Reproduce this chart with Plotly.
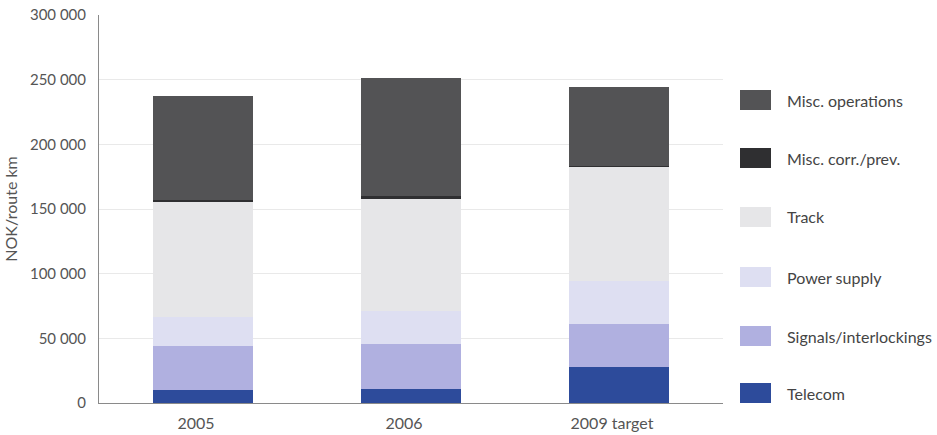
import plotly.graph_objects as go

# Maintenance cost per route km, by year and component
years = ["2005", "2006", "2009 target"]
telecom = [10000, 10500, 28000]
signals = [34000, 35000, 33000]
power_supply = [22500, 25500, 33000]
track = [89000, 86500, 88500]
misc_corr_prev = [1500, 2500, 500]
misc_operations = [80000, 91000, 61500]

y_ticks = [0, 50000, 100000, 150000, 200000, 250000, 300000]

# bottom-to-top stacking order
series = [
    ("Telecom", telecom, "#2d4b9b"),
    ("Signals/interlockings", signals, "#b0b0e0"),
    ("Power supply", power_supply, "#dedff2"),
    ("Track", track, "#e6e6e8"),
    ("Misc. corr./prev.", misc_corr_prev, "#2f2f31"),
    ("Misc. operations", misc_operations, "#535355"),
]

FONT = "Lato"
TEXT = "#555555"

fig = go.Figure()
for name, vals, col in series:
    fig.add_trace(go.Bar(
        x=years, y=vals, name=name,
        marker=dict(color=col, line=dict(width=0)),
        showlegend=False,
    ))

W, H = 937, 435
L, R, T, B = 99, 214, 15, 32
PW, PH = W - L - R, H - T - B


def px_x(px):
    return (px - L) / PW


def px_y(py):
    return (H - B - py) / PH


# legend drawn as swatch + label rows, top row = top of stack
legend_rows = list(reversed(series))
row_y = [100, 158, 217, 277, 336, 393]  # pixel centres
shapes = []
annotations = []
for (name, _, col), py in zip(legend_rows, row_y):
    shapes.append(dict(type="rect", xref="paper", yref="paper",
                       x0=px_x(740), x1=px_x(771),
                       y0=px_y(py + 10), y1=px_y(py - 10),
                       fillcolor=col, line=dict(width=0)))
    annotations.append(dict(xref="paper", yref="paper",
                            x=px_x(785), y=px_y(py),
                            text=name, showarrow=False, xanchor="left", yanchor="middle",
                            font=dict(family=FONT, size=16, color="#444444")))

fig.update_layout(
    width=W, height=H,
    margin=dict(l=L, r=R, t=T, b=B, pad=0),
    barmode="stack",
    bargap=0.52,
    plot_bgcolor="white",
    paper_bgcolor="white",
    separators=". ",
    font=dict(family=FONT, size=15, color=TEXT),
    shapes=shapes,
    annotations=annotations,
)
fig.update_xaxes(
    automargin=False,
    showline=True, linecolor="#8a8a8a", linewidth=1,
    showgrid=False, ticks="", ticklabelstandoff=6, ticklabelshift=-7,
    tickfont=dict(family=FONT, size=16, color=TEXT),
)
fig.update_yaxes(
    automargin=False,
    range=[0, 300000], tickvals=y_ticks, tickformat=",d",
    showline=True, linecolor="#8a8a8a", linewidth=1,
    showgrid=True, gridcolor="#e9e9e9", gridwidth=1,
    zeroline=False, ticks="", ticklabelstandoff=9,
    tickfont=dict(family=FONT, size=15, color=TEXT),
    title=dict(text="NOK/route km", standoff=8,
               font=dict(family=FONT, size=16, color=TEXT)),
)

fig.write_html("out.html")
